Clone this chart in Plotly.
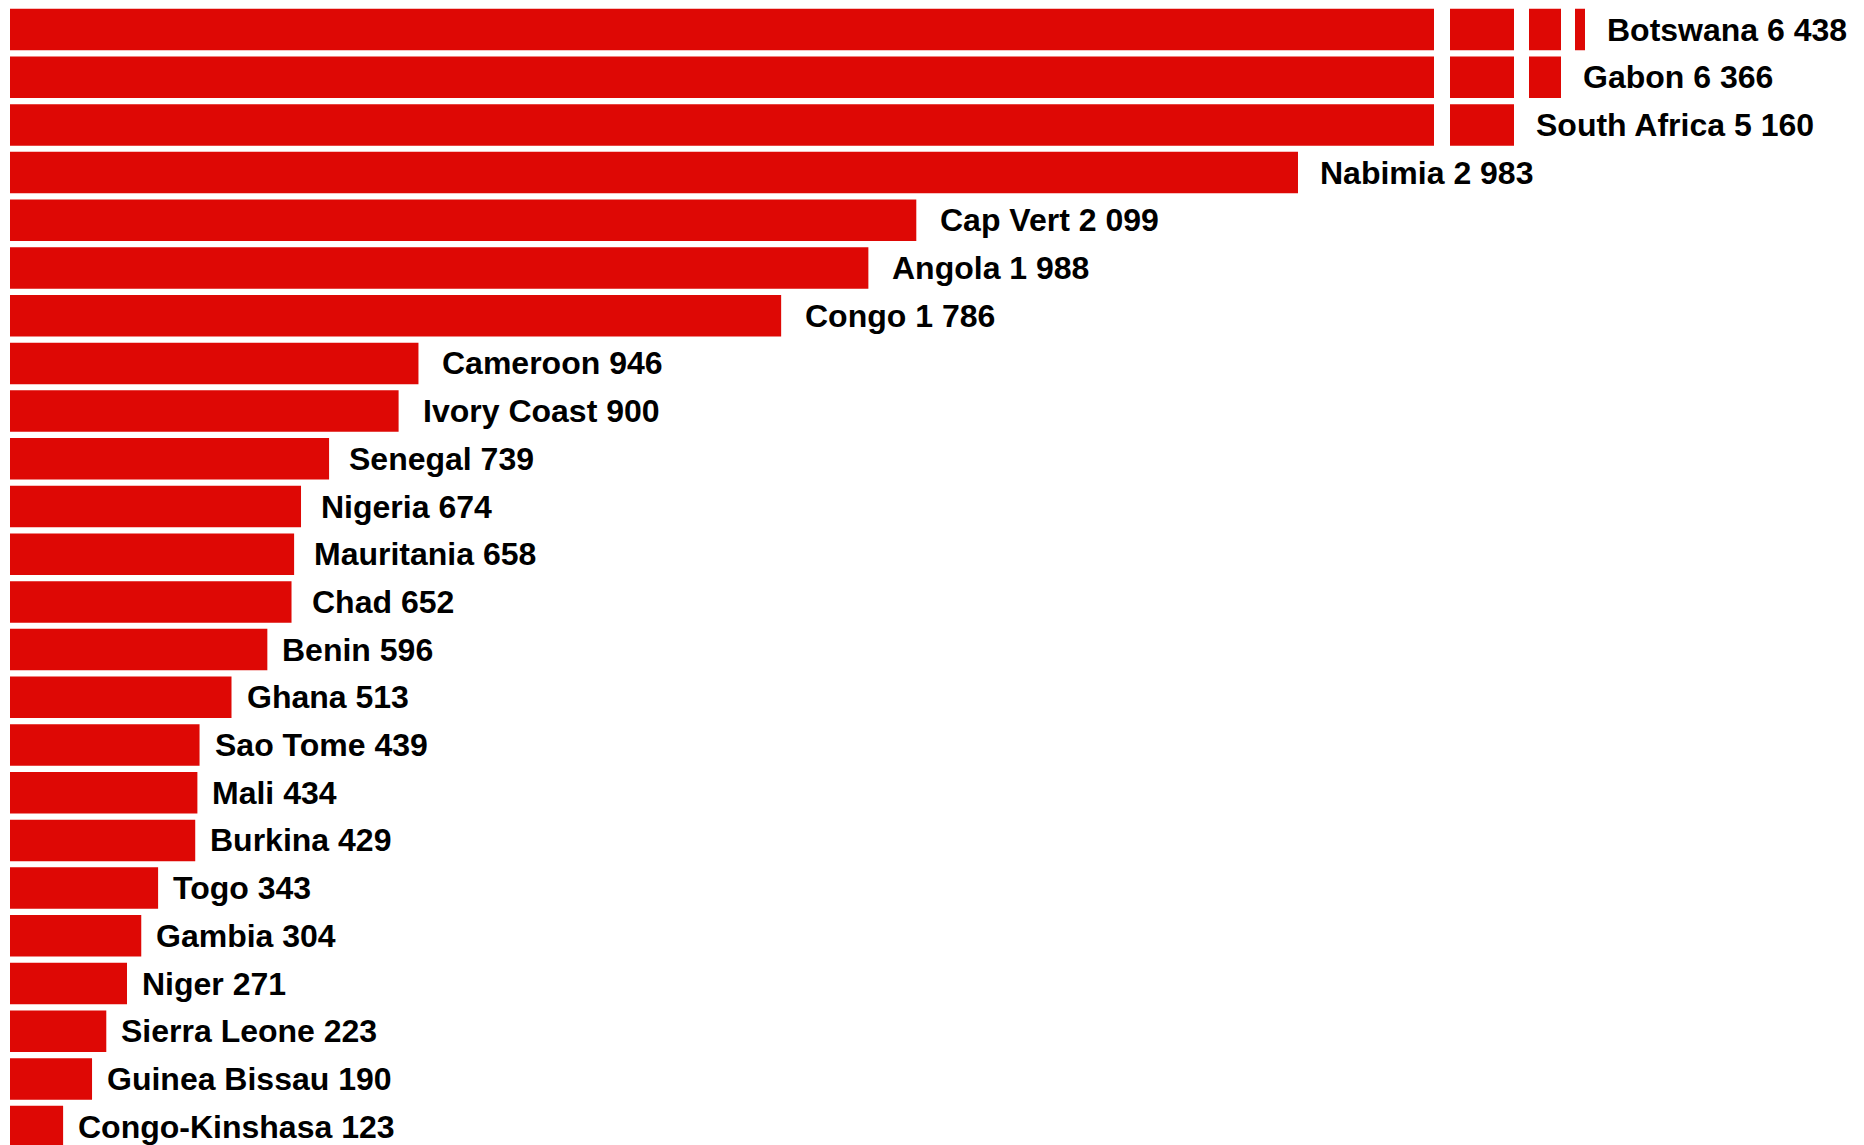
import plotly.graph_objects as go

countries = ["Botswana", "Gabon", "South Africa", "Nabimia", "Cap Vert", "Angola",
             "Congo", "Cameroon", "Ivory Coast", "Senegal", "Nigeria", "Mauritania",
             "Chad", "Benin", "Ghana", "Sao Tome", "Mali", "Burkina", "Togo",
             "Gambia", "Niger", "Sierra Leone", "Guinea Bissau", "Congo-Kinshasa"]
values = [6438, 6366, 5160, 2983, 2099, 1988, 1786, 946, 900, 739, 674, 658,
          652, 596, 513, 439, 434, 429, 343, 304, 271, 223, 190, 123]

W, H = 1864, 1145
RED = "#DE0805"
FONT = "Liberation Sans, Arial, sans-serif"

# broken x axis: pixel span of each panel and the value window it shows
panels = [
    ((2, 1426), (0, 3298)),
    ((1442, 1506), (4950, 5098)),
    ((1521, 1553), (6250, 6324)),
    ((1567, 1577), (6405, 6428)),
]

fig = go.Figure()
for k, ((p0, p1), rng) in enumerate(panels):
    xa = "x" if k == 0 else f"x{k + 1}"
    fig.add_trace(go.Bar(x=values, y=countries, orientation="h", marker_color=RED,
                         marker_line_width=0, xaxis=xa, yaxis="y",
                         hoverinfo="x+y", showlegend=False))
    fig.update_layout(**{
        ("xaxis" if k == 0 else f"xaxis{k + 1}"): dict(
            domain=[p0 / W, p1 / W], range=list(rng), anchor="y",
            visible=False, showgrid=False, zeroline=False, fixedrange=True)
    })

# labels after the end of each bar
for name, v in zip(countries, values):
    k = max(i for i, (_, rng) in enumerate(panels) if v > rng[0])
    if k == 0:
        ann = dict(x=v, xref="x")
        shift = 20 if v > 2500 else 22 if v >= 900 else 18 if v >= 600 else 13
    else:
        ann = dict(x=1, xref=f"x{k + 1} domain")
        shift = 20
    fig.add_annotation(**ann, y=name, yref="y", text=f"{name} {v:,}".replace(",", " "),
                       showarrow=False, xanchor="left", yanchor="middle", xshift=shift,
                       font=dict(family=FONT, size=32, color="black", weight="bold"))

fig.update_yaxes(type="category", range=[23.553, -0.451], visible=False,
                 showgrid=False, fixedrange=True)
fig.update_layout(width=W, height=H, margin=dict(l=0, r=0, t=0, b=0),
                  bargap=0.13, paper_bgcolor="white", plot_bgcolor="white")

fig.write_html("out.html")
